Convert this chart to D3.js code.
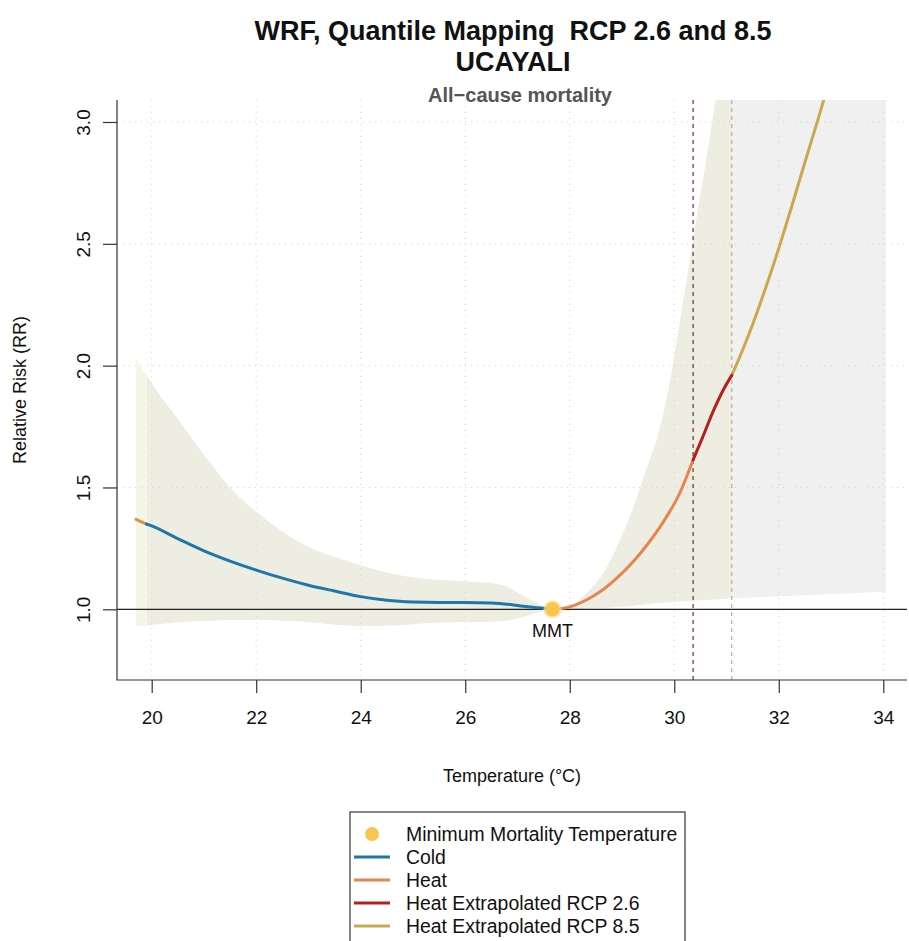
<!DOCTYPE html>
<html>
<head>
<meta charset="utf-8">
<script src="https://cdn.jsdelivr.net/npm/d3@7"></script>
<style>
  body { margin: 0; background: #fff; }
  svg { font-family: "Liberation Sans", Arial, sans-serif; }
</style>
</head>
<body>
<div id="chart"></div>
<script>
const WIDTH = 909;
const HEIGHT = 941;
const PLOT = { left: 117, right: 907, top: 100, bottom: 680 };

// tick values
const X_TICKS = [20, 22, 24, 26, 28, 30, 32, 34];
const Y_TICKS = [1.0, 1.5, 2.0, 2.5, 3.0];

// cold curve (blue)
const COLD_TEMP = [19.9, 20.0, 20.5, 21.0, 21.5, 22.0, 22.5, 23.0, 23.5, 24.0, 24.5, 25.0, 25.5, 26.0, 26.5, 27.0, 27.3, 27.67];
const COLD_RR   = [1.350, 1.342, 1.290, 1.240, 1.198, 1.161, 1.128, 1.099, 1.075, 1.052, 1.037, 1.030, 1.028, 1.028, 1.026, 1.016, 1.008, 1.000];

// short extrapolated piece at the cold end
const COLD_EXT_TEMP = [19.7, 19.9];
const COLD_EXT_RR = [1.369, 1.350];

// heat curve
const HEAT_TEMP = [27.67, 28.0, 28.3, 28.6, 28.9, 29.2, 29.5, 29.8, 30.1, 30.36];
const HEAT_RR   = [1.000, 1.010, 1.036, 1.075, 1.128, 1.192, 1.270, 1.362, 1.475, 1.613];

// extrapolated heat, RCP 2.6 and RCP 8.5
const RCP26_TEMP = [30.36, 30.55, 30.75, 30.95, 31.1];
const RCP26_RR   = [1.613, 1.710, 1.815, 1.905, 1.960];
const RCP85_TEMP = [31.1, 31.3, 31.51, 31.75, 32.02, 32.25, 32.5, 32.75, 32.9];
const RCP85_RR   = [1.960, 2.060, 2.175, 2.320, 2.495, 2.655, 2.835, 3.010, 3.120];

// confidence band
const BAND_TEMP = [19.9, 20.0, 20.54, 21.12, 21.56, 22.0, 22.84, 24.0, 24.75, 25.39, 26.0, 26.5, 26.85, 27.05, 27.35, 27.67,
                   28.0, 28.32, 28.64, 28.96, 29.22, 29.35, 29.53, 29.66, 29.92, 30.0, 30.36, 30.78, 31.1];
const BAND_HIGH = [1.962, 1.928, 1.770, 1.600, 1.486, 1.400, 1.274, 1.182, 1.140, 1.122, 1.115, 1.108, 1.088, 1.062, 1.028, 1.000,
                   1.012, 1.066, 1.148, 1.284, 1.421, 1.503, 1.613, 1.695, 1.940, 2.040, 2.520, 3.080, 3.600];
const BAND_LOW  = [0.934, 0.936, 0.948, 0.953, 0.956, 0.956, 0.950, 0.931, 0.935, 0.945, 0.948, 0.949, 0.955, 0.965, 0.985, 1.000,
                   1.000, 1.002, 1.005, 1.010, 1.015, 1.018, 1.022, 1.025, 1.029, 1.030, 1.035, 1.040, 1.045];

// band over the cold extrapolated piece
const BAND_EXT_TEMP = [19.7, 19.9];
const BAND_EXT_HIGH = [2.026, 1.962];
const BAND_EXT_LOW = [0.929, 0.934];

// band over the RCP 8.5 range
const GREY_TEMP = [31.1, 32.5, 34.05];
const GREY_HIGH = [3.6, 4.5, 5.5];
const GREY_LOW  = [1.045, 1.058, 1.072];

const MMT = 27.67;
const THRESH_26 = 30.36;
const THRESH_85 = 31.1;

const LEGEND_LABELS = ["Minimum Mortality Temperature", "Cold", "Heat", "Heat Extrapolated RCP 2.6", "Heat Extrapolated RCP 8.5"];
const LEGEND_COLORS = ["#F9C54E", "#1F76A8", "#E58552", "#B3201E", "#C9A94E"];

const x = d3.scaleLinear().domain([20, 34]).range([151.7, 883.3]);
const y = d3.scaleLinear().domain([1.0, 3.0]).range([609.3, 122]);

const svg = d3.select("#chart").append("svg")
  .attr("width", WIDTH)
  .attr("height", HEIGHT);

svg.append("clipPath").attr("id", "plotclip")
  .append("rect")
  .attr("x", PLOT.left).attr("y", PLOT.top)
  .attr("width", PLOT.right - PLOT.left).attr("height", PLOT.bottom - PLOT.top);

const plot = svg.append("g").attr("clip-path", "url(#plotclip)");

function band(temps, lows, highs) {
  const pts = temps.map((t, i) => ({ t: t, lo: lows[i], hi: highs[i] }));
  return d3.area()
    .x(d => x(d.t))
    .y0(d => y(d.lo))
    .y1(d => y(d.hi))
    .curve(d3.curveMonotoneX)(pts);
}

plot.append("path").attr("d", band(GREY_TEMP, GREY_LOW, GREY_HIGH)).attr("fill", "#F0F0F0");
plot.append("path").attr("d", band(BAND_TEMP, BAND_LOW, BAND_HIGH)).attr("fill", "#EDEDE2");
plot.append("path").attr("d", band(BAND_EXT_TEMP, BAND_EXT_LOW, BAND_EXT_HIGH)).attr("fill", "#F6F6E6");

// grid
plot.selectAll(".vgrid").data(X_TICKS).enter().append("line")
  .attr("x1", d => x(d)).attr("x2", d => x(d))
  .attr("y1", PLOT.top).attr("y2", PLOT.bottom)
  .attr("stroke", "#D2D2D2").attr("stroke-width", 1).attr("stroke-dasharray", "1,5");
plot.selectAll(".hgrid").data(Y_TICKS).enter().append("line")
  .attr("x1", PLOT.left).attr("x2", PLOT.right)
  .attr("y1", d => y(d)).attr("y2", d => y(d))
  .attr("stroke", "#D2D2D2").attr("stroke-width", 1).attr("stroke-dasharray", "1,5");

// reference line at RR = 1
plot.append("line")
  .attr("x1", PLOT.left).attr("x2", PLOT.right)
  .attr("y1", y(1)).attr("y2", y(1))
  .attr("stroke", "#222").attr("stroke-width", 1.2);

// threshold lines
plot.append("line")
  .attr("x1", x(THRESH_26)).attr("x2", x(THRESH_26))
  .attr("y1", PLOT.top).attr("y2", PLOT.bottom)
  .attr("stroke", "#6E2A40").attr("stroke-width", 1.2).attr("stroke-dasharray", "4,4");
plot.append("line")
  .attr("x1", x(THRESH_85)).attr("x2", x(THRESH_85))
  .attr("y1", PLOT.top).attr("y2", PLOT.bottom)
  .attr("stroke", "#B0B09A").attr("stroke-width", 1.2).attr("stroke-dasharray", "4,4");

function curve(temps, rrs, color) {
  const pts = temps.map((t, i) => [x(t), y(rrs[i])]);
  plot.append("path")
    .attr("d", d3.line().curve(d3.curveMonotoneX)(pts))
    .attr("fill", "none")
    .attr("stroke", color)
    .attr("stroke-width", 3)
    .attr("stroke-linecap", "round");
}

curve(COLD_EXT_TEMP, COLD_EXT_RR, "#E2913E");
curve(COLD_TEMP, COLD_RR, LEGEND_COLORS[1]);
curve(HEAT_TEMP, HEAT_RR, LEGEND_COLORS[2]);
curve(RCP85_TEMP, RCP85_RR, LEGEND_COLORS[4]);
curve(RCP26_TEMP, RCP26_RR, LEGEND_COLORS[3]);

// MMT point
svg.append("circle").attr("cx", x(MMT)).attr("cy", y(1)).attr("r", 9).attr("fill", "#FBD98A").attr("opacity", 0.7);
svg.append("circle").attr("cx", x(MMT)).attr("cy", y(1)).attr("r", 7).attr("fill", LEGEND_COLORS[0]);
svg.append("text").attr("x", x(MMT)).attr("y", y(1) + 28)
  .attr("text-anchor", "middle").attr("font-size", 18).attr("fill", "#111").text("MMT");

// axes box (L shape)
svg.append("path")
  .attr("d", `M${PLOT.left},${PLOT.top}V${PLOT.bottom}H${PLOT.right}`)
  .attr("fill", "none").attr("stroke", "#333").attr("stroke-width", 1.2);

const xAxis = svg.append("g")
  .attr("transform", `translate(0,${PLOT.bottom})`)
  .call(d3.axisBottom(x).tickValues(X_TICKS).tickSize(13).tickPadding(18).tickFormat(d3.format("d")));
xAxis.select(".domain").remove();
xAxis.selectAll("line").attr("stroke", "#333").attr("stroke-width", 1.2);
xAxis.selectAll("text").attr("font-size", 19).attr("fill", "#111").attr("font-family", null);

const yAxis = svg.append("g")
  .attr("transform", `translate(${PLOT.left},0)`)
  .call(d3.axisLeft(y).tickValues(Y_TICKS).tickSize(14).tickFormat(d3.format(".1f")));
yAxis.select(".domain").remove();
yAxis.selectAll("line").attr("stroke", "#333").attr("stroke-width", 1.2);
yAxis.selectAll("text")
  .attr("font-size", 19).attr("fill", "#111").attr("font-family", null)
  .attr("transform", "rotate(-90)")
  .attr("x", 0).attr("y", -34).attr("dy", "0.35em")
  .attr("text-anchor", "middle");

// axis titles
svg.append("text").attr("x", 512).attr("y", 782)
  .attr("text-anchor", "middle").attr("font-size", 18).attr("fill", "#111")
  .text("Temperature (°C)");
svg.append("text")
  .attr("transform", "translate(26,390) rotate(-90)")
  .attr("text-anchor", "middle").attr("font-size", 18).attr("fill", "#111")
  .text("Relative Risk (RR)");

// titles
svg.append("text").attr("x", 513).attr("y", 40)
  .attr("text-anchor", "middle").attr("font-size", 27).attr("font-weight", "bold").attr("fill", "#111")
  .text("WRF, Quantile Mapping\u00A0\u00A0RCP 2.6 and 8.5");
svg.append("text").attr("x", 513).attr("y", 71)
  .attr("text-anchor", "middle").attr("font-size", 27).attr("font-weight", "bold").attr("fill", "#111")
  .text("UCAYALI");
svg.append("text").attr("x", 520).attr("y", 102)
  .attr("text-anchor", "middle").attr("font-size", 20).attr("font-weight", "bold").attr("fill", "#555")
  .text("All\u2212cause mortality");

// legend
const legend = svg.append("g");
legend.append("rect")
  .attr("x", 350).attr("y", 812).attr("width", 335).attr("height", 140)
  .attr("fill", "#fff").attr("stroke", "#333").attr("stroke-width", 1.2);
const rows = legend.selectAll(".row").data(LEGEND_LABELS).enter().append("g")
  .attr("transform", (d, i) => `translate(0,${834 + i * 23})`);
rows.each(function (d, i) {
  const g = d3.select(this);
  if (i === 0) {
    g.append("circle").attr("cx", 372).attr("cy", 0).attr("r", 7).attr("fill", LEGEND_COLORS[0]);
  } else {
    g.append("line").attr("x1", 354).attr("x2", 390).attr("y1", 0).attr("y2", 0)
      .attr("stroke", LEGEND_COLORS[i]).attr("stroke-width", 3);
  }
  g.append("text").attr("x", 406).attr("y", 0).attr("dy", "0.36em")
    .attr("font-size", 19.4).attr("fill", "#111").text(d);
});
</script>
</body>
</html>
